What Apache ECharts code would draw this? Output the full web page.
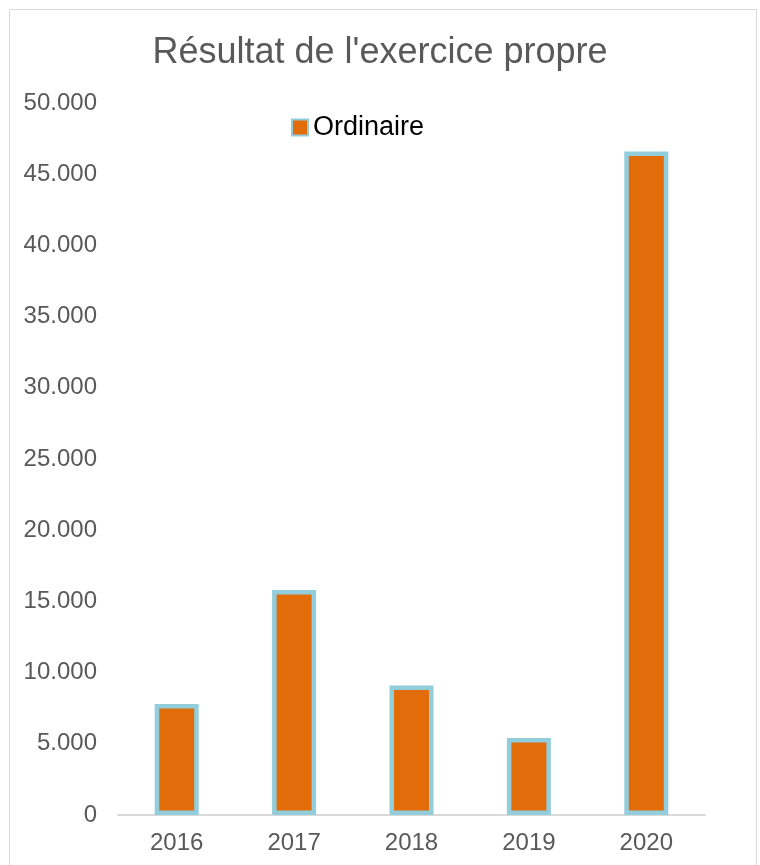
<!DOCTYPE html>
<html>
<head>
<meta charset="utf-8">
<script src="https://cdn.jsdelivr.net/npm/echarts@6/dist/echarts.min.js"></script>
<style>
html,body{margin:0;padding:0;background:#fff;}
#chart{width:760px;height:865px;}
</style>
</head>
<body>
<div id="chart"></div>
<script>
const categories = ['2016', '2017', '2018', '2019', '2020'];
const ordinaire = [7800, 15800, 9100, 5400, 46600];
const titleText = "Résultat de l'exercice propre";
const seriesName = 'Ordinaire';

const chart = echarts.init(document.getElementById('chart'));
chart.setOption({
  animation: false,
  backgroundColor: '#fff',
  textStyle: { fontFamily: 'Liberation Sans, Arial, sans-serif' },
  graphic: [{
    type: 'rect', silent: true, z: -1,
    shape: { x: 9.5, y: 9.5, width: 747, height: 900 },
    style: { fill: 'none', stroke: '#D9D9D9', lineWidth: 1 }
  }],
  title: {
    text: titleText, left: 'center', top: 30,
    textStyle: { fontSize: 36, fontWeight: 'normal', color: '#595959' }
  },
  legend: {
    data: [seriesName], top: 109, left: 286,
    itemWidth: 16, itemHeight: 16, itemGap: 6,
    textStyle: { fontSize: 27, color: '#000' },
    icon: 'rect'
  },
  grid: { left: 118, right: 55, top: 103, bottom: 50, containLabel: false },
  xAxis: {
    type: 'category', data: categories,
    axisLine: { lineStyle: { color: '#D9D9D9', width: 2 } },
    axisTick: { show: false },
    axisLabel: { fontSize: 24, color: '#595959', margin: 16 }
  },
  yAxis: {
    type: 'value', min: 0, max: 50000, interval: 5000,
    axisLine: { show: false }, axisTick: { show: false },
    splitLine: { show: false },
    axisLabel: {
      fontSize: 24, color: '#595959', margin: 21,
      formatter: v => String(v).replace(/\B(?=(\d{3})+(?!\d))/g, '.')
    }
  },
  series: [{
    name: seriesName, type: 'bar', data: ordinaire,
    barWidth: 44,
    itemStyle: { color: '#E36C0A', borderColor: '#92CDDC', borderWidth: 4.5 }
  }]
});
</script>
</body>
</html>
